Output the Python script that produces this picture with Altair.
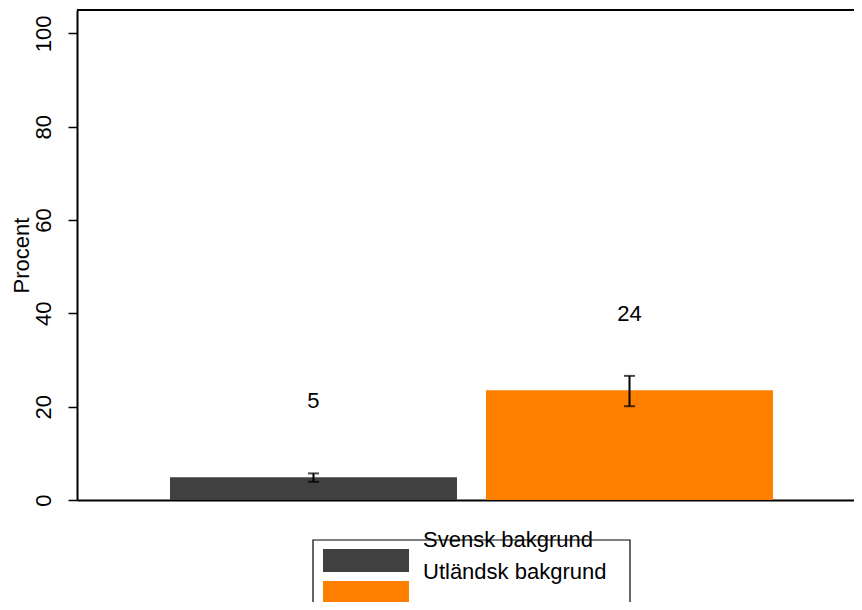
import altair as alt
import pandas as pd

categories = ["Svensk bakgrund", "Utländsk bakgrund"]
values = [4.9, 23.5]
ci_low = [3.9, 20.1]
ci_high = [5.7, 26.6]
labels = ["5", "24"]
colors = ["#404040", "#FF7F00"]
y_ticks = [0, 20, 40, 60, 80, 100]

df = pd.DataFrame({"cat": categories, "value": values, "lo": ci_low,
                   "hi": ci_high, "label": labels})

W, H = 777, 490
FONT = "Liberation Sans"
FS = 22

xscale = alt.Scale(domain=categories, range=[0, 789],
                   paddingInner=0.0918, paddingOuter=0.2943)
yscale = alt.Scale(domain=[0, 105], nice=False, zero=True)
cscale = alt.Scale(domain=categories, range=colors)

x_enc = alt.X("cat:N", scale=xscale, sort=categories,
              axis=alt.Axis(title=None, labels=False, ticks=False, domain=True,
                            domainColor="black", domainWidth=2, grid=False))
y_axis = alt.Axis(title="Procent", values=y_ticks, grid=False,
                  labelAngle=270, labelAlign="center", labelBaseline="alphabetic",
                  labelFont=FONT, labelFontSize=FS, labelColor="black",
                  labelPadding=18, labelFlush=False, labelOverlap=False, labelBound=False,
                  tickSize=9, tickColor="black", tickWidth=1.5,
                  domainColor="black", domainWidth=2,
                  titleFont=FONT, titleFontSize=FS, titleFontWeight="normal",
                  titleColor="black", titleAngle=270, titleAlign="center",
                  titleBaseline="alphabetic", titleX=-49, titleY=H / 2)

base = alt.Chart(df)

bars = base.mark_bar().encode(
    x=x_enc,
    y=alt.Y("value:Q", scale=yscale, axis=y_axis),
    color=alt.Color("cat:N", scale=cscale, legend=None),
)

err = base.mark_rule(color="black", strokeWidth=2).encode(
    x=alt.X("cat:N", scale=xscale, sort=categories),
    y=alt.Y("lo:Q", scale=yscale),
    y2="hi:Q",
)
cap_lo = base.mark_tick(color="black", size=11, thickness=2).encode(
    x=alt.X("cat:N", scale=xscale, sort=categories),
    y=alt.Y("lo:Q", scale=yscale),
)
cap_hi = base.mark_tick(color="black", size=11, thickness=2).encode(
    x=alt.X("cat:N", scale=xscale, sort=categories),
    y=alt.Y("hi:Q", scale=yscale),
)

txt = base.mark_text(dy=-76, baseline="middle", align="center", font=FONT,
                     fontSize=FS, color="black").encode(
    x=alt.X("cat:N", scale=xscale, sort=categories),
    y=alt.Y("value:Q", scale=yscale),
    text="label:N",
)

frame = pd.DataFrame({"k": [0]})
top_line = alt.Chart(frame).mark_rule(color="black", strokeWidth=2).encode(
    x=alt.value(0), x2=alt.value(840), y=alt.value(0)
)

# legend (drawn below the plot)
leg_box = alt.Chart(frame).mark_rect(fillOpacity=0, stroke="black", strokeWidth=1.2).encode(
    x=alt.value(236), x2=alt.value(553), y=alt.value(530), y2=alt.value(660)
)
leg_layers = [leg_box]
for i, cat in enumerate(categories):
    row = alt.Chart(df).transform_filter(alt.datum.cat == cat)
    leg_layers.append(row.mark_rect().encode(
        x=alt.value(246), x2=alt.value(332),
        y=alt.value(539 + 32 * i), y2=alt.value(562 + 32 * i),
        color=alt.Color("cat:N", scale=cscale, legend=None),
    ))
    leg_layers.append(row.mark_text(align="left", baseline="alphabetic", font=FONT,
                                    fontSize=FS, color="black").encode(
        x=alt.value(346), y=alt.value(537 + 32 * i), text="cat:N"
    ))

chart = alt.layer(bars, err, cap_lo, cap_hi, txt, top_line, *leg_layers).properties(
    width=W, height=H,
    autosize=alt.AutoSizeParams(type="none"),
    padding={"left": 69, "top": 2, "right": 0, "bottom": 102},
).configure_view(stroke=None).configure(font=FONT)

chart.save("out.html", embed_options={"renderer": "svg", "actions": False})
